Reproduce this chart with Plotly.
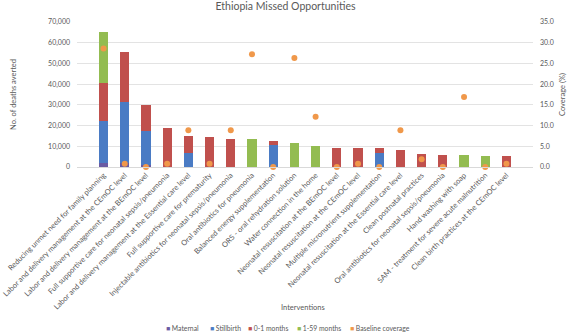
import plotly.graph_objects as go

categories = [
    "Reducing unmet need for family planning",
    "Labor and delivery management at the CEmOC level",
    "Labor and delivery management at the BEmOC level",
    "Full supportive care for neonatal sepsis/pneumonia",
    "Labor and delivery management at the Essential care level",
    "Full supportive care for prematurity",
    "Injectable antibiotics for neonatal sepsis/pneumonia",
    "Oral antibiotics for pneumonia",
    "Balanced energy supplementation",
    "ORS - oral rehydration solution",
    "Water connection in the home",
    "Neonatal resuscitation at the BEmOC level",
    "Neonatal resuscitation at the CEmOC level",
    "Multiple micronutrient supplementation",
    "Neonatal resuscitation at the Essential care level",
    "Clean postnatal practices",
    "Oral antibiotics for neonatal sepsis/pneumonia",
    "Hand washing with soap",
    "SAM - treatment for severe acute malnutrition",
    "Clean birth practices at the CEmOC level",
]

maternal = [2000, 2000, 800, 0, 0, 0, 0, 0, 0, 0, 0, 0, 0, 0, 0, 0, 0, 0, 0, 0]
stillbirth = [20000, 29200, 16700, 0, 6950, 0, 0, 0, 10700, 0, 0, 0, 0, 6950, 0, 0, 0, 0, 0, 0]
neonatal = [18700, 24300, 12500, 19000, 8100, 14250, 13750, 0, 1950, 0, 0, 9400, 9400, 2100, 8400, 6200, 5800, 0, 0, 5200]
child = [24500, 0, 0, 0, 0, 0, 0, 13450, 0, 11800, 9900, 0, 0, 0, 0, 0, 0, 5800, 5350, 0]
coverage = [28.6, 0.8, 0.0, 0.8, 8.9, 0.8, 8.9, 27.2, 0.0, 26.3, 12.1, 0.0, 0.8, 0.0, 8.9, 1.9, 0.0, 16.9, 0.0, 0.8]

left_ticks = [0, 10000, 20000, 30000, 40000, 50000, 60000, 70000]
right_ticks = [0, 5, 10, 15, 20, 25, 30, 35]

FONT = "Lato"
GRAY = "#595959"
COLORS = {
    "Maternal": "#6A5BA3",
    "Stillbirth": "#4A7BC4",
    "0-1 months": "#C0504D",
    "1-59 months": "#93BC51",
    "Baseline coverage": "#F0984A",
}

fig = go.Figure()
series = [("Maternal", maternal), ("Stillbirth", stillbirth),
          ("0-1 months", neonatal), ("1-59 months", child)]
for name, vals in series:
    fig.add_trace(go.Bar(x=categories, y=vals, name=name, marker_color=COLORS[name],
                         marker_line_width=0, showlegend=False))

fig.add_trace(go.Scatter(x=categories, y=coverage, name="Baseline coverage",
                         mode="markers", yaxis="y2", cliponaxis=False, showlegend=False,
                         marker=dict(color=COLORS["Baseline coverage"], size=6)))

# legend built as text: coloured square + series name
legend_x_px = [164, 208, 246, 295, 348]
plot_left, plot_w = 77, 456
annotations = []
for name, xp in zip(COLORS.keys(), legend_x_px):
    annotations.append(dict(
        text=f'<span style="color:{COLORS[name]}">■</span> {name}',
        x=(xp - plot_left) / plot_w, y=-1.108, xref="paper", yref="paper",
        xanchor="left", yanchor="middle", showarrow=False,
        font=dict(size=6.8, color=GRAY)))
annotations.append(dict(text="Interventions", x=0.496, y=-0.97, xref="paper", yref="paper",
                        showarrow=False, font=dict(size=7.5, color=GRAY),
                        xanchor="center", yanchor="middle"))

fig.update_layout(
    width=567, height=333,
    margin=dict(l=77, r=34, t=22, b=166, autoexpand=False),
    paper_bgcolor="white", plot_bgcolor="white",
    barmode="stack", bargap=0.57, showlegend=False,
    font=dict(family=FONT, color=GRAY, size=7),
    title=dict(text="Ethiopia Missed Opportunities", x=0.5035, xanchor="center",
               y=0.982, yanchor="middle", font=dict(size=10.5, color=GRAY, family=FONT)),
    xaxis=dict(type="category", tickangle=-45, automargin=False,
               tickfont=dict(size=7.5, color=GRAY), showgrid=False,
               showline=True, linecolor="#D9D9D9", linewidth=1, ticks=""),
    yaxis=dict(range=[0, 70000], tickvals=left_ticks, tickformat=",d",
               showgrid=True, gridcolor="#E3E3E3", gridwidth=1, zeroline=False,
               automargin=False, tickfont=dict(size=7, color=GRAY), ticks="",
               ticklabelstandoff=6,
               title=dict(text="No. of deaths averted", standoff=30,
                          font=dict(size=7.5, color=GRAY))),
    yaxis2=dict(range=[0, 35], tickvals=right_ticks, tickformat=".1f", overlaying="y",
                side="right", showgrid=False, zeroline=False, automargin=False,
                tickfont=dict(size=7, color=GRAY), ticks="", ticklabelstandoff=6,
                title=dict(text="Coverage (%)", standoff=9,
                           font=dict(size=7.5, color=GRAY))),
    annotations=annotations,
)

fig.write_html("out.html", config={"displayModeBar": False},
               post_script="document.body.style.margin='0';")
